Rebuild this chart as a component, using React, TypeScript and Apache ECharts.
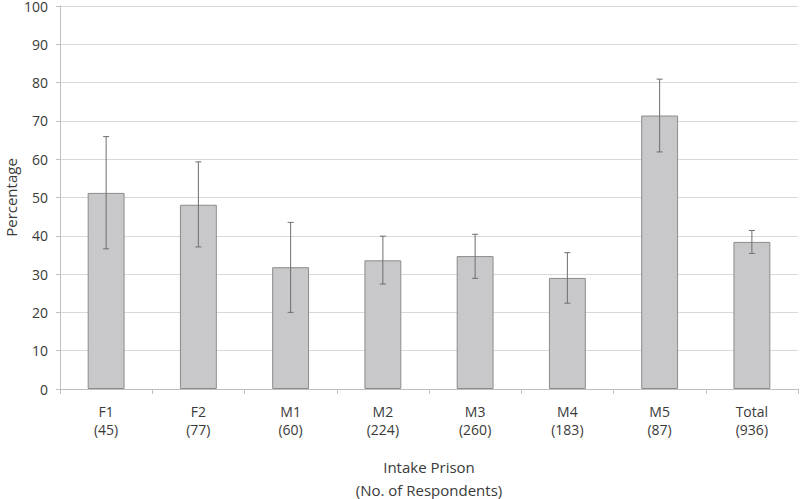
import React, { useEffect, useRef } from "react";
import * as echarts from "echarts";

const categories = ["F1\n(45)", "F2\n(77)", "M1\n(60)", "M2\n(224)", "M3\n(260)", "M4\n(183)", "M5\n(87)", "Total\n(936)"];
const values = [51.2, 48.1, 31.8, 33.6, 34.7, 29.0, 71.4, 38.4];
const errLow = [36.6, 37.1, 20.0, 27.4, 28.9, 22.4, 61.9, 35.4];
const errHigh = [65.9, 59.3, 43.5, 39.9, 40.4, 35.6, 80.9, 41.4];
const yTicks = [0, 100, 10];

export default function App() {
  const ref = useRef<HTMLDivElement>(null);
  useEffect(() => {
    const chart = echarts.init(ref.current!, null, { renderer: "svg" });
    const font = "'Open Sans', sans-serif";
    const txt = "#3a3a3a";
    chart.setOption({
      animation: false,
      grid: { left: 60, right: 2, top: 6, bottom: 110, outerBoundsMode: "none", containLabel: false },
      xAxis: {
        type: "category",
        data: categories,
        name: "Intake Prison\n(No. of Respondents)",
        nameLocation: "middle",
        nameGap: 66,
        nameTextStyle: { fontFamily: font, fontSize: 15, color: txt, lineHeight: 23 },
        axisLine: { lineStyle: { color: "#bfbfbf" } },
        axisTick: { show: true, length: 5, lineStyle: { color: "#bfbfbf" } },
        axisLabel: { fontFamily: font, fontSize: 14, color: txt, lineHeight: 18, margin: 13 },
      },
      yAxis: {
        type: "value",
        min: yTicks[0],
        max: yTicks[1],
        interval: yTicks[2],
        name: "Percentage",
        nameLocation: "middle",
        nameGap: 42,
        nameMoveOverlap: false,
        nameTextStyle: { fontFamily: font, fontSize: 15, color: txt },
        axisLine: { show: true, lineStyle: { color: "#bfbfbf" } },
        axisTick: { show: true, length: 4, lineStyle: { color: "#bfbfbf" } },
        splitLine: { lineStyle: { color: "#d9d9d9" } },
        axisLabel: { fontFamily: font, fontSize: 14, color: txt, margin: 12 },
      },
      series: [
        {
          type: "bar",
          data: values,
          barWidth: "40%",
          itemStyle: { color: "#c8c8ca", borderColor: "#8c8c8c", borderWidth: 1 },
        },
        {
          type: "custom",
          data: categories.map((_, i) => [i, errLow[i], errHigh[i]]),
          z: 10,
          renderItem: (params: any, api: any) => {
            const x = api.value(0);
            const lo = api.coord([x, api.value(1)]);
            const hi = api.coord([x, api.value(2)]);
            const cap = 3;
            const style = { stroke: "#6e6e6e", lineWidth: 1 };
            return {
              type: "group",
              children: [
                { type: "line", shape: { x1: lo[0], y1: lo[1], x2: hi[0], y2: hi[1] }, style },
                { type: "line", shape: { x1: lo[0] - cap, y1: lo[1], x2: lo[0] + cap, y2: lo[1] }, style },
                { type: "line", shape: { x1: hi[0] - cap, y1: hi[1], x2: hi[0] + cap, y2: hi[1] }, style },
              ],
            };
          },
        },
      ],
    });
    return () => chart.dispose();
  }, []);
  return <div ref={ref} style={{ width: 800, height: 499, position: "absolute", left: 0, top: 0, background: "#fff" }} />;
}
